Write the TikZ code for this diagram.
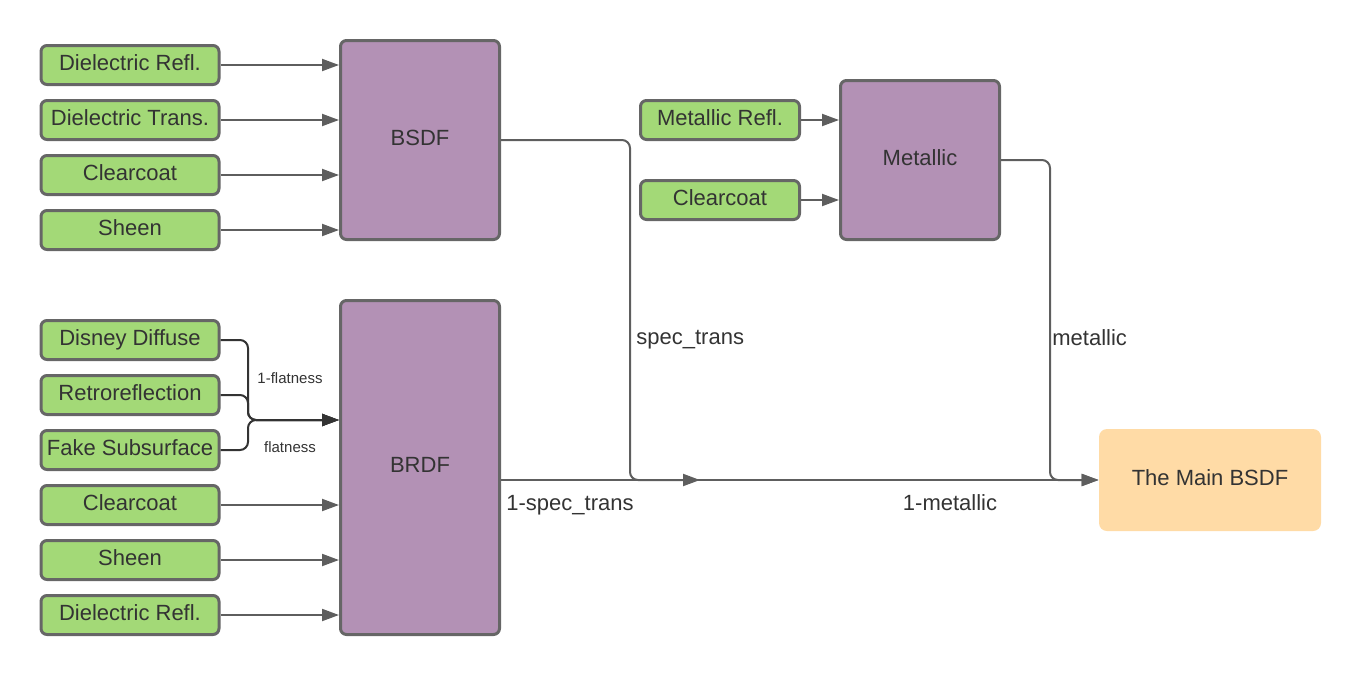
\documentclass[tikz,border=0pt]{standalone}
\usepackage{fontspec}
\setmainfont{Liberation Sans}
\usetikzlibrary{arrows.meta}
\definecolor{gfill}{HTML}{A3D977}
\definecolor{pfill}{HTML}{B391B5}
\definecolor{ofill}{HTML}{FFDBA6}
\definecolor{bord}{HTML}{666666}
\definecolor{txt}{HTML}{333333}
\definecolor{conn}{HTML}{5E5E5E}
\begin{document}
\begin{tikzpicture}[x=0.5pt,y=-0.5pt,
  base/.style={text=txt, font=\fontsize{11}{13}\selectfont, inner sep=0pt},
  boxtext/.style={base, text height=8pt, text depth=3pt},
  inbox/.style={boxtext, draw=bord, fill=gfill, line width=1.5pt, rounded corners=3pt, minimum width=89pt, minimum height=19.5pt},
  mixbox/.style={boxtext, draw=bord, fill=pfill, line width=1.5pt, rounded corners=3pt, minimum width=79.5pt},
  mainbox/.style={boxtext, fill=ofill, rounded corners=4pt, minimum width=111pt, minimum height=51pt},
  wire/.style={draw=conn, line width=1pt, -{Triangle[length=8.5pt,width=6pt]}},
  darkwire/.style={draw=txt, line width=1pt, rounded corners=4pt, -{Triangle[length=8.5pt,width=6pt]}},
  bendwire/.style={wire, rounded corners=4pt},
  lbl/.style={base},
  smalllbl/.style={text=txt, font=\fontsize{7.5}{9}\selectfont, inner sep=0pt}]
\useasboundingbox (0,0) rectangle (1360,675);

% mixing boxes
\node[mixbox, minimum height=99.5pt] (bsdf) at (420,140) {BSDF};
\node[mixbox, minimum height=167pt] (brdf) at (420,467.5) {BRDF};
\node[mixbox, minimum height=79.5pt] (metal) at (920,160) {Metallic};
\node[mainbox] (main) at (1210,480) {The Main BSDF};

% BSDF inputs
\node[inbox] (dr1) at (130,65) {Dielectric Refl.};
\node[inbox] (dt1) at (130,120) {Dielectric Trans.};
\node[inbox] (cc1) at (130,175) {Clearcoat};
\node[inbox] (sh1) at (130,230) {Sheen};

% BRDF inputs
\node[inbox] (dd) at (130,340) {Disney Diffuse};
\node[inbox] (rr) at (130,395) {Retroreflection};
\node[inbox] (fs) at (130,450) {Fake Subsurface};
\node[inbox] (cc2) at (130,505) {Clearcoat};
\node[inbox] (sh2) at (130,560) {Sheen};
\node[inbox] (dr2) at (130,615) {Dielectric Refl.};

% Metallic inputs
\node[inbox, minimum width=79.5pt] (mr) at (720,120) {Metallic Refl.};
\node[inbox, minimum width=79.5pt] (cc3) at (720,200) {Clearcoat};

% straight inputs
\foreach \n in {dr1,dt1,cc1,sh1}{\draw[wire] (\n.east) -- (bsdf.west |- \n.east);}
\foreach \n in {cc2,sh2,dr2}{\draw[wire] (\n.east) -- (brdf.west |- \n.east);}
\foreach \n in {mr,cc3}{\draw[wire] (\n.east) -- (metal.west |- \n.east);}

% merged inputs
\coordinate (j) at (248,420);
\draw[darkwire] (dd.east) -| (j) -- (brdf.west |- j);
\draw[darkwire] (rr.east) -| (j) -- (brdf.west |- j);
\draw[darkwire] (fs.east) -| (j) -- (brdf.west |- j);
\node[smalllbl] (l1) at (290,378) {1-flatness};
\node[smalllbl] (l2) at (290,447) {flatness};

% outputs
\coordinate (c1) at (630,480);
\coordinate (m1) at (700,480);
\coordinate (c2) at (1050,480);
\draw[bendwire] (bsdf.east) -| (c1) -- (m1);
\draw[wire] (brdf.east |- m1) -- (main.west);
\draw[bendwire] (metal.east) -| (c2) -- (main.west);

\node[lbl, anchor=west] (st) at (636,340) {spec\_trans};
\node[lbl, anchor=west] (ost) at (506,505) {1-spec\_trans};
\node[lbl, anchor=west] (mt) at (1052,338) {metallic};
\node[lbl] (omt) at (950,503) {1-metallic};
\end{tikzpicture}
\end{document}
